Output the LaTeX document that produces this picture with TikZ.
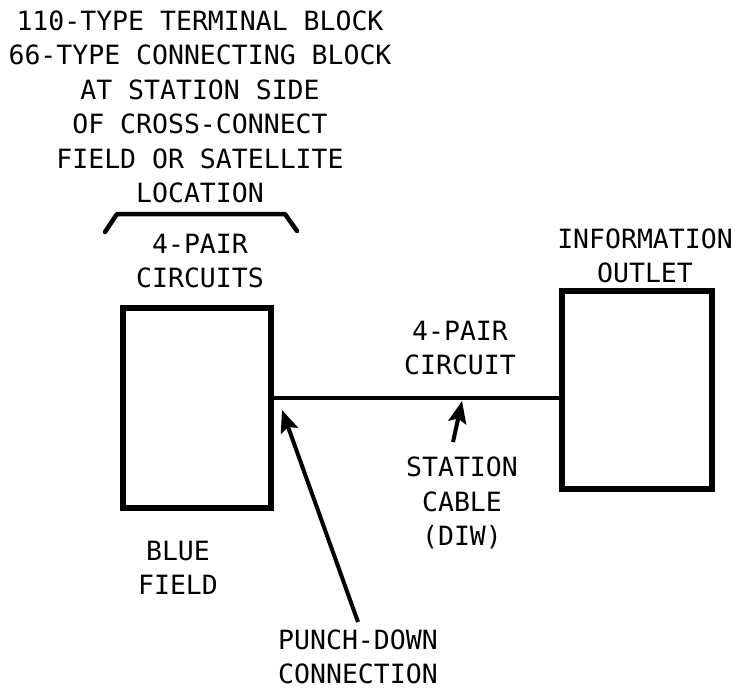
\documentclass[tikz,border=0pt]{standalone}
\usepackage{fontspec}
\setmonofont{DejaVu Sans Mono}
\usetikzlibrary{arrows.meta}
\begin{document}
\begin{tikzpicture}[x=1pt,y=-1pt,
  lbl/.style={align=center,inner sep=0pt,font=\ttfamily\fontsize{26.5}{34.5}\selectfont},
  boxstyle/.style={draw,line width=5.5pt,inner sep=0pt,outer sep=0pt},
  wire/.style={line width=4.5pt},
  ptr/.style={line width=4pt,-{Stealth[length=22pt,width=18pt,inset=4pt]}},
  brace/.style={line width=4.5pt,line cap=round,line join=round}]
\useasboundingbox (0,0) rectangle (738,690);
\node[lbl] (top) at (200,107) {110-TYPE TERMINAL BLOCK\\66-TYPE CONNECTING BLOCK\\AT STATION SIDE\\OF CROSS-CONNECT\\FIELD OR SATELLITE\\LOCATION};
\coordinate (b1) at (105,232);
\coordinate (b2) at (117,214);
\coordinate (b3) at (285,214);
\coordinate (b4) at (297,231);
\draw[brace] (b1) -- (b2) -- (b3) -- (b4);
\node[lbl] (pairs) at (200,261) {4-PAIR\\CIRCUITS};
\node[boxstyle,minimum width=148pt,minimum height=200pt] (leftbox) at (197,408) {};
\node[boxstyle,minimum width=150pt,minimum height=198pt] (rightbox) at (637,390) {};
\node[lbl] (info) at (645,256) {INFORMATION\\OUTLET};
\coordinate (linec) at (400,398);
\draw[wire] (leftbox.east |- linec) -- (rightbox.west |- linec);
\node[lbl] (circuit) at (460,348) {4-PAIR\\CIRCUIT};
\coordinate (stip) at (462,401);
\coordinate (stail) at (453,442);
\draw[ptr] (stail) -- (stip);
\node[lbl] (station) at (462,503) {STATION\\CABLE\\(DIW)};
\coordinate (ptip) at (282,410);
\coordinate (ptail) at (358,622);
\draw[ptr] (ptail) -- (ptip);
\node[lbl] (blue) at (178,568) {BLUE\\FIELD};
\node[lbl] (punch) at (358,657) {PUNCH-DOWN\\CONNECTION};
\end{tikzpicture}
\end{document}
